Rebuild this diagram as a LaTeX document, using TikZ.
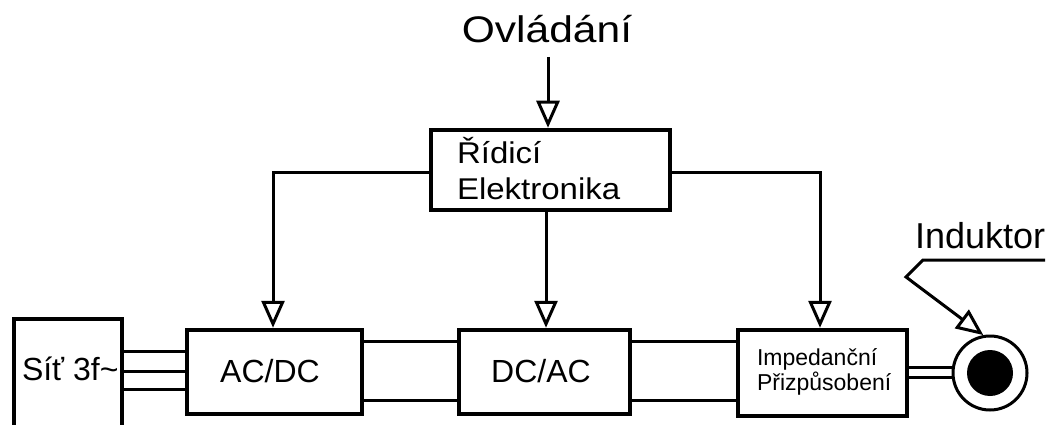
\documentclass[tikz,border=0pt]{standalone}
\usepackage{fontspec}
\setmainfont{Liberation Sans}
\newfontfamily\widefont[FakeStretch=1.15]{Liberation Sans}
\newfontfamily\semiwide[FakeStretch=1.1]{Liberation Sans}
\usetikzlibrary{arrows.meta}
\begin{document}
\begin{tikzpicture}[x=1pt,y=-1pt,
  blk/.style={draw, line width=4.5pt, rectangle, inner sep=0pt},
  wire/.style={line width=3pt},
  arr/.style={line width=3pt, -{Triangle[open, length=27pt, width=23pt]}},
  txt/.style={inner sep=0pt, outer sep=0pt}]
\useasboundingbox (0,0) rectangle (1052,425);
% blocks
\node[blk, minimum width=108pt, minimum height=122pt] (sit) at (68,380) {};
\node[blk, minimum width=175pt, minimum height=84pt] (acdc) at (274.5,372) {};
\node[blk, minimum width=171pt, minimum height=84pt] (dcac) at (544.5,372) {};
\node[blk, minimum width=169pt, minimum height=86pt] (imp) at (822.5,373) {};
\node[blk, minimum width=239pt, minimum height=80pt] (ctrl) at (550.5,170) {};
\node[draw, circle, line width=3pt, minimum size=74pt, inner sep=0pt] (ind) at (990,373) {};
\node[fill, circle, minimum size=46pt, inner sep=0pt] (core) at (990,373) {};
% texts
\node[txt, anchor=base, font=\widefont\fontsize{37}{42}\selectfont] (ovl) at (547,43) {Ovládání};
\node[txt, anchor=base west, font=\semiwide\fontsize{30}{35}\selectfont] (rid1) at (457,164) {Řídicí};
\node[txt, anchor=base west, font=\semiwide\fontsize{30}{35}\selectfont] (rid2) at (457,199) {Elektronika};
\node[txt, anchor=base, font=\fontsize{32}{36}\selectfont] (t1) at (270,382) {AC/DC};
\node[txt, anchor=base, font=\fontsize{32}{36}\selectfont] (t2) at (541,382) {DC/AC};
\node[txt, anchor=base west, font=\fontsize{32}{36}\selectfont] (t3) at (22,380) {Síť 3f\char"7E};
\node[txt, anchor=base west, font=\fontsize{23}{26}\selectfont] (t4) at (757,365) {Impedanční};
\node[txt, anchor=base west, font=\fontsize{23}{26}\selectfont] (t5) at (757,390) {Přizpůsobení};
\node[txt, anchor=base west, font=\fontsize{36}{40}\selectfont] (indl) at (915,248) {Induktor};
% helper coordinates
\coordinate (o) at (548,57);
\coordinate (c1) at (273,172);
\coordinate (c2) at (820,172);
\coordinate (m) at (546,0);
\coordinate (k1) at (1045,260);
\coordinate (k2) at (923,260);
\coordinate (k3) at (906,277);
% control arrows
\draw[arr] (o) -- (ctrl.north -| o);
\draw[arr] (ctrl.west |- c1) -- (c1) -- (acdc.north -| c1);
\draw[arr] (ctrl.south -| m) -- (dcac.north -| m);
\draw[arr] (ctrl.east |- c2) -- (c2) -- (imp.north -| c2);
% power wires
\foreach \yy in {351,371,389} \draw[wire] (sit.east |- 0,\yy) -- (acdc.west |- 0,\yy);
\foreach \yy in {341,400} \draw[wire] (acdc.east |- 0,\yy) -- (dcac.west |- 0,\yy);
\foreach \yy in {341,400} \draw[wire] (dcac.east |- 0,\yy) -- (imp.west |- 0,\yy);
\foreach \yy in {367,377} \draw[wire] (imp.east |- 0,\yy) -- (ind.west |- 0,\yy);
% inductor leader
\draw[arr] (k1) -- (k2) -- (k3) -- (ind.100);
\end{tikzpicture}
\end{document}
